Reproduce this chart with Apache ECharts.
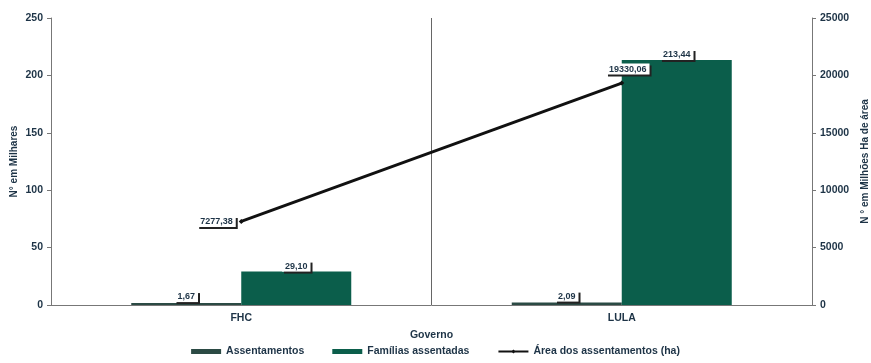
<!DOCTYPE html>
<html>
<head>
<meta charset="utf-8">
<style>
  html, body { margin: 0; padding: 0; background: #fff; }
  #chart { width: 871px; height: 363px; }
</style>
<script src="https://cdn.jsdelivr.net/npm/echarts@6/dist/echarts.min.js"></script>
</head>
<body>
<div id="chart"></div>
<script>
// data
const categories = ['FHC', 'LULA']
const assentamentos = [1.67, 2.09]
const familias = [29.10, 213.44]
const area = [7277.38, 19330.06]
const leftTicks = { min: 0, max: 250, interval: 50 }
const rightTicks = { min: 0, max: 25000, interval: 5000 }

const textColor = '#1d3346'
const font = 'Liberation Sans'
const fmt = (v) => v.toFixed(2).replace('.', ',')

const boxLabel = {
  show: true,
  color: textColor,
  fontFamily: font,
  fontWeight: 'bold',
  fontSize: 9,
  backgroundColor: '#fff',
  padding: [1, 3],
  shadowColor: '#222',
  shadowOffsetX: 2,
  shadowOffsetY: 2,
  shadowBlur: 0,
  formatter: (p) => fmt(p.value),
}

const chart = echarts.init(document.getElementById('chart'))

chart.setOption({
  animation: false,
  textStyle: { fontFamily: font },
  grid: { left: 51, right: 59, top: 18, bottom: 58, outerBoundsMode: 'none', containLabel: false },
  legend: {
    bottom: 1,
    itemWidth: 30,
    itemHeight: 5,
    itemGap: 28,
    textStyle: { color: textColor, fontWeight: 'bold', fontSize: 10.5, fontFamily: font },
    data: [
      { name: 'Assentamentos', icon: 'rect' },
      { name: 'Famílias assentadas', icon: 'rect' },
      { name: 'Área dos assentamentos (ha)' },
    ],
  },
  xAxis: {
    type: 'category',
    data: categories,
    name: 'Governo',
    nameLocation: 'middle',
    nameGap: 25,
    nameTextStyle: { color: textColor, fontWeight: 'bold', fontSize: 10.5 },
    axisLine: { lineStyle: { color: '#777' } },
    axisTick: { show: false },
    axisLabel: { color: textColor, fontWeight: 'bold', fontSize: 10.5, margin: 8 },
    splitLine: { show: true, lineStyle: { color: '#666' } },
  },
  yAxis: [
    {
      type: 'value',
      ...leftTicks,
      name: 'N° em Milhares',
      nameLocation: 'middle',
      nameGap: 32,
      nameMoveOverlap: false,
      nameTextStyle: { color: textColor, fontWeight: 'bold', fontSize: 10 },
      axisLine: { show: true, lineStyle: { color: '#777' } },
      axisTick: { show: true, length: 4, lineStyle: { color: '#777' } },
      axisLabel: { color: textColor, fontWeight: 'bold', fontSize: 10.5, margin: 8 },
      splitLine: { show: false },
    },
    {
      type: 'value',
      ...rightTicks,
      name: 'N ° em Milhões Ha de área',
      nameLocation: 'middle',
      nameGap: 46,
      nameTextStyle: { color: textColor, fontWeight: 'bold', fontSize: 10 },
      axisLine: { show: true, lineStyle: { color: '#777' } },
      axisTick: { show: true, length: 4, lineStyle: { color: '#777' } },
      axisLabel: { color: textColor, fontWeight: 'bold', fontSize: 10.5, margin: 8, formatter: (v) => String(v) },
      splitLine: { show: false },
    },
  ],
  series: [
    {
      name: 'Assentamentos',
      type: 'bar',
      data: assentamentos,
      barWidth: 110,
      barGap: '0%',
      itemStyle: { color: '#2b4a44' },
      label: { ...boxLabel, position: 'top', distance: 1 },
    },
    {
      name: 'Famílias assentadas',
      type: 'bar',
      data: familias,
      barWidth: 110,
      barGap: '0%',
      itemStyle: { color: '#0b5e4b' },
      label: { ...boxLabel, position: 'top', distance: 0 },
    },
    {
      name: 'Área dos assentamentos (ha)',
      type: 'line',
      yAxisIndex: 1,
      data: [
        { value: area[0], label: { position: 'left', distance: 3 } },
        { value: area[1], label: { position: 'top', distance: 6, offset: [6, 0] } },
      ],
      symbol: 'diamond',
      symbolSize: 5,
      lineStyle: { color: '#111', width: 3 },
      itemStyle: { color: '#111' },
      label: { ...boxLabel },
      z: 5,
    },
  ],
})
</script>
</body>
</html>
